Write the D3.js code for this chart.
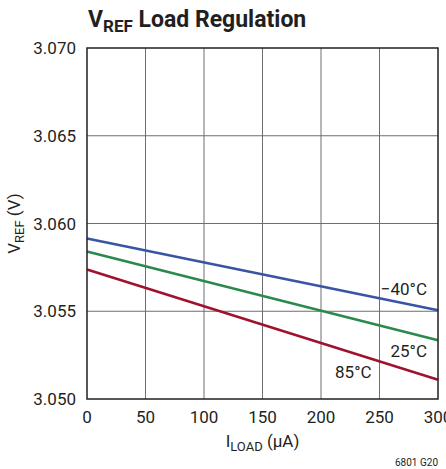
<!DOCTYPE html>
<html>
<head>
<meta charset="utf-8">
<script src="https://d3js.org/d3.v7.min.js"></script>
<style>
  body { margin: 0; background: #fff; }
  svg text { font-family: "Liberation Sans Narrow", "Arial Narrow", "Roboto", sans-serif; fill: #231f20; }
</style>
</head>
<body>
<svg id="chart" width="446" height="469"></svg>
<script>
// load current in uA
const loadCurrent = [0, 300];
const seriesNames = ['-40°C', '25°C', '85°C'];
const vrefCold = [3.05915, 3.05506];
const vrefRoom = [3.0584, 3.05335];
const vrefHot = [3.05738, 3.0511];
const xTicks = [0, 50, 100, 150, 200, 250, 300];
const yTicks = [3.050, 3.055, 3.060, 3.065, 3.070];

const series = [
    { name: seriesNames[0], values: vrefCold, color: '#3a54a4', label: '\u221240\u00b0C', lx: 300, ly: 3.0559 },
    { name: seriesNames[1], values: vrefRoom, color: '#2a8a4e', label: '25\u00b0C', lx: 300, ly: 3.0524 },
    { name: seriesNames[2], values: vrefHot, color: '#a0112e', label: '85\u00b0C', lx: 212, ly: 3.0512 }
];

const svg = d3.select('#chart');
const margin = { left: 87, top: 48, right: 8, bottom: 70 };
const width = 446 - margin.left - margin.right;
const height = 469 - margin.top - margin.bottom;

const x = d3.scaleLinear().domain([0, 300]).range([0, width]);
const y = d3.scaleLinear().domain([3.050, 3.070]).range([height, 0]);

const g = svg.append('g').attr('transform', `translate(${margin.left},${margin.top})`);

// Grid lines
g.append('g').selectAll('line')
    .data(xTicks.slice(1, -1))
    .join('line')
    .attr('x1', d => x(d)).attr('x2', d => x(d))
    .attr('y1', 0).attr('y2', height)
    .attr('stroke', '#6d6e71').attr('stroke-width', 1);

g.append('g').selectAll('line')
    .data(yTicks.slice(1, -1))
    .join('line')
    .attr('x1', 0).attr('x2', width)
    .attr('y1', d => y(d)).attr('y2', d => y(d))
    .attr('stroke', '#6d6e71').attr('stroke-width', 1);

// Data lines
const line = d3.line()
    .x((d, i) => x(loadCurrent[i]))
    .y(d => y(d));

series.forEach(s => {
    g.append('path')
        .datum(s.values)
        .attr('d', line)
        .attr('fill', 'none')
        .attr('stroke', s.color)
        .attr('stroke-width', 2.5);
});

// Frame
g.append('rect')
    .attr('width', width).attr('height', height)
    .attr('fill', 'none')
    .attr('stroke', '#231f20').attr('stroke-width', 1.5);

// Tick labels
g.append('g').selectAll('text')
    .data(yTicks)
    .join('text')
    .attr('x', -11)
    .attr('y', d => y(d) + 6)
    .attr('text-anchor', 'end')
    .attr('font-size', 17)
    .text(d3.format('.3f'));

g.append('g').selectAll('text')
    .data(xTicks)
    .join('text')
    .attr('x', d => x(d))
    .attr('y', height + 24)
    .attr('text-anchor', 'middle')
    .attr('font-size', 17)
    .text(d => d);

// Series labels
series.forEach(s => {
    g.append('text')
        .attr('x', x(s.lx))
        .attr('y', y(s.ly))
        .attr('text-anchor', s.lx >= 300 ? 'end' : 'start')
        .attr('dx', s.lx >= 300 ? -11 : 0)
        .attr('font-size', 17)
        .text(s.label);
});

// Title
const title = svg.append('text')
    .attr('x', 88).attr('y', 27)
    .attr('font-size', 23).attr('font-weight', 'bold');
title.append('tspan').text('V');
title.append('tspan').attr('font-size', 17).attr('dy', 5).text('REF');
title.append('tspan').attr('dy', -5).text(' Load Regulation');

// Axis titles
const xLabel = svg.append('text')
    .attr('x', margin.left + width / 2).attr('y', 447)
    .attr('text-anchor', 'middle')
    .attr('font-size', 17);
xLabel.append('tspan').text('I');
xLabel.append('tspan').attr('font-size', 13).attr('dy', 4).text('LOAD');
xLabel.append('tspan').attr('dy', -4).text(' (\u00b5A)');

const yLabel = svg.append('text')
    .attr('transform', `translate(20,${margin.top + height / 2}) rotate(-90)`)
    .attr('text-anchor', 'middle')
    .attr('font-size', 17);
yLabel.append('tspan').text('V');
yLabel.append('tspan').attr('font-size', 13).attr('dy', 4).text('REF');
yLabel.append('tspan').attr('dy', -4).text(' (V)');

// Figure code
svg.append('text')
    .attr('x', 438).attr('y', 466)
    .attr('text-anchor', 'end')
    .attr('font-size', 10)
    .text('6801 G20');
</script>
</body>
</html>
